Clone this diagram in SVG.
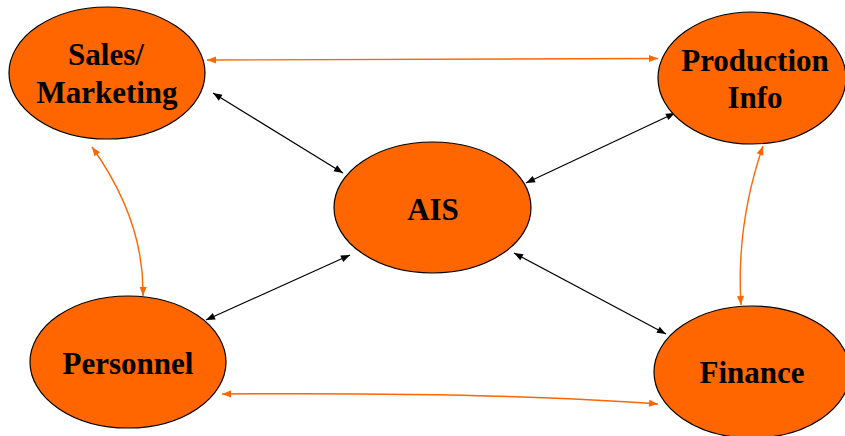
<svg xmlns="http://www.w3.org/2000/svg" width="845" height="436" viewBox="0 0 845 436">
<style>
.node{fill:#FF6600;stroke:#000;stroke-width:1.2}
.lbl{font-family:"Liberation Serif","Times New Roman",serif;font-weight:bold;font-size:31px;fill:#000;text-anchor:middle}
.blk{fill:none;stroke:#000;stroke-width:1.2;marker-start:url(#ab);marker-end:url(#ab)}
.org{fill:none;stroke:#FF6600;stroke-width:1.4;marker-start:url(#ao);marker-end:url(#ao)}
</style>
<defs>
<marker id="ab" markerUnits="userSpaceOnUse" markerWidth="10" markerHeight="8" refX="9" refY="3.5" orient="auto-start-reverse" overflow="visible">
<path d="M0,0 L9,3.5 L0,7 z" fill="#000"/>
</marker>
<marker id="ao" markerUnits="userSpaceOnUse" markerWidth="10" markerHeight="8" refX="9" refY="3.5" orient="auto-start-reverse" overflow="visible">
<path d="M0,0 L9,3.5 L0,7 z" fill="#FF6600"/>
</marker>
</defs>
<rect width="845" height="436" fill="#fff"/>
<g id="connectors">
<path class="org" d="M207,60 L658,58.5"/>
<path class="blk" d="M213,93 L343,173"/>
<path class="blk" d="M526,183 L675,113"/>
<path class="blk" d="M206,320 L350,255"/>
<path class="blk" d="M514,253 L666,334"/>
<path class="org" d="M92,147 Q144.5,220.5 143,296"/>
<path class="org" d="M763,146 Q736,224.5 741,305"/>
<path class="org" d="M222,394 Q500,392 658,404"/>
</g>
<g id="sales">
<ellipse class="node" cx="107" cy="73" rx="98" ry="66"/>
<text class="lbl" x="106" y="65">Sales/</text>
<text class="lbl" x="107" y="103">Marketing</text>
</g>
<g id="production">
<ellipse class="node" cx="752" cy="78" rx="94" ry="66"/>
<text class="lbl" x="755" y="71">Production</text>
<text class="lbl" x="755" y="108">Info</text>
</g>
<g id="ais">
<ellipse class="node" cx="432.5" cy="207.5" rx="98.5" ry="65.5"/>
<text class="lbl" x="433" y="220">AIS</text>
</g>
<g id="personnel">
<ellipse class="node" cx="128" cy="362" rx="98" ry="66"/>
<text class="lbl" x="128" y="374">Personnel</text>
</g>
<g id="finance">
<ellipse class="node" cx="752" cy="372" rx="98" ry="66"/>
<text class="lbl" x="752" y="383">Finance</text>
</g>
</svg>
